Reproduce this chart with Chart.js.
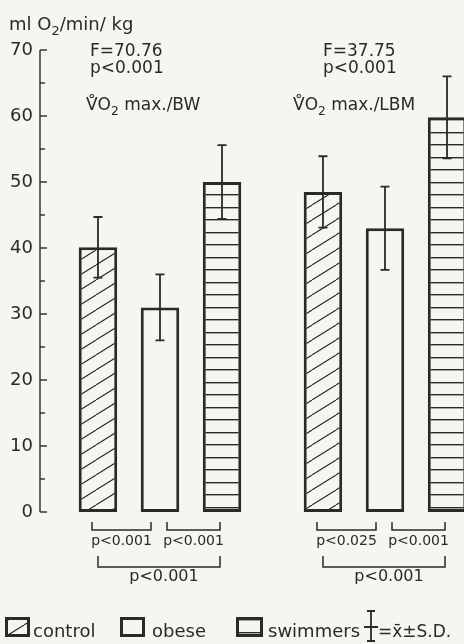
<!DOCTYPE html>
<html><head><meta charset="utf-8">
<script src="https://cdn.jsdelivr.net/npm/chart.js@4.4.1/dist/chart.umd.min.js"></script>
<style>html,body{margin:0;padding:0;background:#f6f5ef;overflow:hidden}
#wrap{width:464px;height:644px;position:relative}</style>
</head><body><div id="wrap"><canvas id="c" width="464" height="644"></canvas></div>
<script>
// ---------- data ----------
const groups = ['VO2 max./BW', 'VO2 max./LBM'];
const seriesNames = ['control', 'obese', 'swimmers'];
const controlMean = [40.1, 48.5];
const controlSD   = [4.6, 5.4];
const obeseMean   = [31.0, 43.0];
const obeseSD     = [5.0, 6.3];
const swimMean    = [50.0, 59.8];
const swimSD      = [5.6, 6.2];
const fStats      = ['F=70.76', 'F=37.75'];
const pStats      = ['p<0.001', 'p<0.001'];
const pControlObese = ['p<0.001', 'p<0.025'];
const pObeseSwim    = ['p<0.001', 'p<0.001'];
const pControlSwim  = ['p<0.001', 'p<0.001'];
const groupTitleTail = ['max./BW', 'max./LBM'];
const yMin = 0, yMax = 70, yStep = 5, yLabelStep = 10;

// ---------- style ----------
const INK = '#2a2a2a';
const BG = '#f6f5ef';
const FONT = '"DejaVu Sans", sans-serif';

const canvas = document.getElementById('c');
const ctx0 = canvas.getContext('2d');

function makeDiag() {
  const w = 24, h = 15;
  const c = document.createElement('canvas'); c.width = w; c.height = h;
  const g = c.getContext('2d');
  g.fillStyle = BG; g.fillRect(0, 0, w, h);
  g.strokeStyle = INK; g.lineWidth = 1.1;
  for (const dx of [-w, 0, w]) { g.beginPath(); g.moveTo(dx, h); g.lineTo(dx + w, 0); g.stroke(); }
  const p = ctx0.createPattern(c, 'repeat');
  if (p.setTransform) p.setTransform(new DOMMatrix().translate(0, -5));
  return p;
}
function makeHoriz() {
  const w = 4, h = 25;
  const c = document.createElement('canvas'); c.width = w; c.height = h;
  const g = c.getContext('2d');
  g.fillStyle = BG; g.fillRect(0, 0, w, h);
  g.fillStyle = INK;
  g.fillRect(0, 7, w, 1.4);
  g.fillRect(0, 19, w, 1.4);
  return ctx0.createPattern(c, 'repeat');
}
const diag = makeDiag(), horiz = makeHoriz();

const means = [controlMean, obeseMean, swimMean];
const sds = [controlSD, obeseSD, swimSD];
const fills = [diag, BG, horiz];

const datasets = seriesNames.map((name, i) => ({
  label: name,
  data: means[i].map((v, g) => ({ x: g, y: v })),
  sd: sds[i],
  backgroundColor: fills[i],
  borderColor: INK,
  borderWidth: 3,
  borderSkipped: false,
  categoryPercentage: 0.827,
  barPercentage: 0.62
}));

function richText(ctx, parts, x, y, size) {
  let cx = x;
  ctx.textAlign = 'left'; ctx.textBaseline = 'alphabetic';
  for (const p of parts) {
    const s = p.sub ? size * 0.72 : size;
    ctx.font = `${s}px ${FONT}`;
    ctx.fillText(p.t, cx, p.sub ? y + size * 0.3 : y);
    cx += ctx.measureText(p.t).width;
  }
}

const axisPlugin = {
  id: 'axisDraw',
  afterDraw(chart) {
    const { ctx, chartArea, scales: { y } } = chart;
    const x0 = chartArea.left;
    ctx.save();
    ctx.strokeStyle = INK; ctx.lineWidth = 1.4;
    ctx.beginPath();
    ctx.moveTo(x0, y.getPixelForValue(yMax));
    ctx.lineTo(x0, y.getPixelForValue(yMin));
    ctx.stroke();
    for (let v = yMin; v <= yMax; v += yStep) {
      const py = y.getPixelForValue(v);
      ctx.beginPath();
      ctx.moveTo(x0, py);
      ctx.lineTo(x0 + (v % yLabelStep === 0 ? 7 : 5), py);
      ctx.stroke();
    }
    ctx.restore();
  }
};

const errorPlugin = {
  id: 'errorBars',
  afterDatasetsDraw(chart) {
    const { ctx, scales: { y } } = chart;
    ctx.save();
    ctx.strokeStyle = INK; ctx.lineWidth = 1.8;
    chart.data.datasets.forEach((ds, i) => {
      chart.getDatasetMeta(i).data.forEach((el, j) => {
        const m = ds.data[j].y, s = ds.sd[j];
        const t = y.getPixelForValue(m + s), b = y.getPixelForValue(m - s);
        ctx.beginPath();
        ctx.moveTo(el.x, t); ctx.lineTo(el.x, b);
        ctx.moveTo(el.x - 4.5, t); ctx.lineTo(el.x + 4.5, t);
        ctx.moveTo(el.x - 4.5, b); ctx.lineTo(el.x + 4.5, b);
        ctx.stroke();
      });
    });
    ctx.restore();
  }
};

// text offsets relative to group center (style only)
const statOffsetX = [-70, -62];
const titleOffsetX = [-74, -92];

const annotPlugin = {
  id: 'annot',
  afterDraw(chart) {
    const { ctx } = chart;
    ctx.save();
    ctx.fillStyle = INK; ctx.strokeStyle = INK;
    // axis unit title
    richText(ctx, [{ t: 'ml O' }, { t: '2', sub: true }, { t: '/min/ kg' }], 9, 30, 18);
    const m0 = chart.getDatasetMeta(0), m1 = chart.getDatasetMeta(1), m2 = chart.getDatasetMeta(2);
    groups.forEach((gname, g) => {
      const xc = m1.data[g].x;
      ctx.font = `17px ${FONT}`; ctx.textAlign = 'left'; ctx.textBaseline = 'alphabetic';
      ctx.fillText(fStats[g], xc + statOffsetX[g], 56);
      ctx.fillText(pStats[g], xc + statOffsetX[g], 73);
      richText(ctx, [{ t: 'V\u030AO' }, { t: '2', sub: true }, { t: ' ' + groupTitleTail[g] }], xc + titleOffsetX[g], 110, 17);

      // brackets
      const c0 = m0.data[g].x, c1 = m1.data[g].x, c2 = m2.data[g].x;
      ctx.lineWidth = 1.5;
      const bracket = (xa, xb, yt, yb) => {
        ctx.beginPath();
        ctx.moveTo(xa, yt); ctx.lineTo(xa, yb); ctx.lineTo(xb, yb); ctx.lineTo(xb, yt);
        ctx.stroke();
      };
      bracket(c0 - 6, c1 - 9, 522, 530);
      bracket(c1 + 7, c2 - 2, 522, 530);
      bracket(c0, c2 - 2, 556, 567);
      ctx.textAlign = 'center';
      ctx.font = `14px ${FONT}`;
      ctx.fillText(pControlObese[g], (c0 - 6 + c1 - 9) / 2, 545);
      ctx.fillText(pObeseSwim[g], (c1 + 7 + c2 - 2) / 2, 545);
      ctx.font = `16px ${FONT}`;
      ctx.fillText(pControlSwim[g], (c0 + c2 - 2) / 2 + 5, 581);
    });

    // legend
    const boxes = [[5, 617, 25, 20], [120, 617, 25, 20], [236, 617, 27, 20]];
    const textX = [33, 152, 268];
    ctx.font = `18px ${FONT}`; ctx.textAlign = 'left'; ctx.textBaseline = 'alphabetic';
    seriesNames.forEach((n, i) => {
      const [bx, by, bw, bh] = boxes[i];
      ctx.fillStyle = fills[i];
      ctx.fillRect(bx, by, bw, bh);
      ctx.lineWidth = 3; ctx.strokeStyle = INK;
      ctx.strokeRect(bx + 1.5, by + 1.5, bw - 3, bh - 3);
      ctx.fillStyle = INK;
      ctx.fillText(n, textX[i], 637);
    });
    // error-bar legend symbol
    ctx.lineWidth = 1.8;
    const ex = 371;
    ctx.beginPath();
    ctx.moveTo(ex, 611); ctx.lineTo(ex, 641);
    ctx.moveTo(ex - 4, 611); ctx.lineTo(ex + 4, 611);
    ctx.moveTo(ex - 4, 641); ctx.lineTo(ex + 4, 641);
    ctx.moveTo(ex - 7, 627); ctx.lineTo(ex + 7, 627);
    ctx.stroke();
    ctx.font = `17px ${FONT}`;
    ctx.fillText('=x\u0304\u00B1S.D.', 378, 637);
    ctx.restore();
  }
};

new Chart(canvas, {
  type: 'bar',
  data: { datasets },
  options: {
    responsive: false,
    animation: false,
    devicePixelRatio: 1,
    layout: { padding: { top: 50, bottom: 132, left: 0, right: 0 } },
    plugins: { legend: { display: false }, tooltip: { enabled: false } },
    scales: {
      x: {
        type: 'linear', display: false, min: -0.5333, max: 1.3511, offset: false,
        afterBuildTicks: s => { s.ticks = [{ value: 0 }, { value: 1 }]; }
      },
      y: {
        min: yMin, max: yMax,
        afterFit: s => { s.width = 40; },
        grid: { display: false, drawTicks: false },
        border: { display: false },
        ticks: {
          stepSize: yStep, autoSkip: false, padding: 7, color: INK,
          font: { family: FONT, size: 18 },
          callback: v => (v % yLabelStep === 0 ? String(v) : '')
        }
      }
    }
  },
  plugins: [axisPlugin, errorPlugin, annotPlugin]
});
</script>
</body></html>
